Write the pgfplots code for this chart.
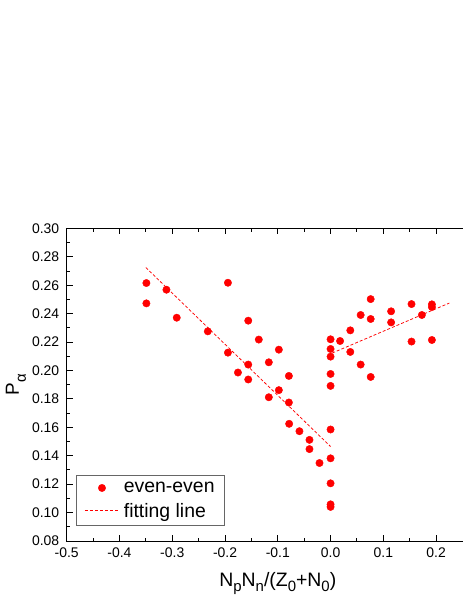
\documentclass[border=0pt]{standalone}
\usepackage{fontspec}
\setmainfont{Liberation Sans}
\usepackage{pgfplots}
\pgfplotsset{compat=1.18}

\newcommand\sub[1]{\raisebox{-5bp}{\fontsize{15}{15}\selectfont #1}}
\newcommand\suba[1]{\raisebox{-7bp}{\fontsize{15}{15}\selectfont #1}}

\begin{document}
\begin{tikzpicture}
\begin{axis}[
  scale only axis,
  width=422.2bp, height=312.5bp,
  xmin=-0.5, xmax=0.3, ymin=0.08, ymax=0.30,
  xtick={-0.5,-0.4,...,0.21},
  ytick={0.08,0.10,...,0.301},
  minor x tick num=1, minor y tick num=1,
  tick align=inside, xtick pos=both, ytick pos=both,
  major tick length=6bp, minor tick length=3.5bp,
  axis line style={line width=1bp},
  every tick/.style={black, line width=1bp},
  /pgf/number format/assume math mode=true,
  tick label style={font=\fontsize{14}{16}\selectfont},
  xticklabel style={yshift=-3bp, /pgf/number format/.cd, fixed, fixed zerofill, precision=1},
  yticklabel style={xshift=-4bp, /pgf/number format/.cd, fixed, fixed zerofill, precision=2},
  scaled ticks=false,
  xlabel={N\sub{p}N\sub{n}/(Z\sub{0}+N\sub{0})},
  ylabel={P\suba{α}},
  xlabel style={font=\fontsize{19.5}{22}\selectfont, at={(axis description cs:0.5,-0.146)}, anchor=base},
  ylabel style={font=\fontsize{19}{22}\selectfont, at={(axis description cs:-0.113,0.5)}, anchor=base},
  legend image code/.code={\draw[mark repeat=2,mark phase=2,#1,draw=red] plot coordinates {(0bp,0bp)(17bp,0bp)(34bp,0bp)};},
  legend cell align=left,
  legend style={at={(axis description cs:0.023,0.049)}, anchor=south west,
    draw=gray!80!black, font=\fontsize{19.5}{22}\selectfont,
    inner xsep=8bp, inner ysep=5bp, row sep=5bp, column sep=2.5bp},
]
\addplot[only marks, mark=*, mark size=3.7bp, mark options={fill=red, draw=red}] table {
x y
-0.349 0.2616
-0.349 0.2473
-0.311 0.2569
-0.2915 0.2372
-0.2326 0.2276
-0.1945 0.2618
-0.1945 0.2126
-0.1755 0.1986
-0.156 0.2351
-0.156 0.2042
-0.156 0.1937
-0.136 0.2218
-0.117 0.2058
-0.117 0.1812
-0.098 0.2147
-0.098 0.1862
-0.079 0.1962
-0.079 0.1775
-0.0785 0.1625
-0.059 0.1573
-0.040 0.1512
-0.040 0.1447
-0.021 0.1349
0 0.1585
0 0.1382
0 0.1206
0 0.1058
0 0.1040
0 0.1892
0 0.1976
0 0.2098
0 0.2152
0 0.2220
0.018 0.2208
0.0374 0.2283
0.0374 0.2131
0.057 0.2391
0.057 0.2042
0.076 0.2503
0.076 0.2363
0.076 0.1955
0.1147 0.2417
0.1147 0.2339
0.1534 0.2468
0.1534 0.2204
0.173 0.2391
0.192 0.2466
0.192 0.2447
0.192 0.2215
};
\addlegendentry{even-even}
\addplot[red, line width=0.75bp, dash pattern=on 3bp off 2bp] coordinates {(-0.35,0.2725) (0,0.1465)};
\addlegendentry{fitting line}
\addplot[red, line width=0.75bp, dash pattern=on 3bp off 2bp, forget plot] coordinates {(0.003,0.2123) (0.225,0.2475)};
\end{axis}
\pgfresetboundingbox
\path[use as bounding box] (-66.7bp,-58bp) rectangle (396.3bp,541bp);
\end{tikzpicture}
\end{document}
